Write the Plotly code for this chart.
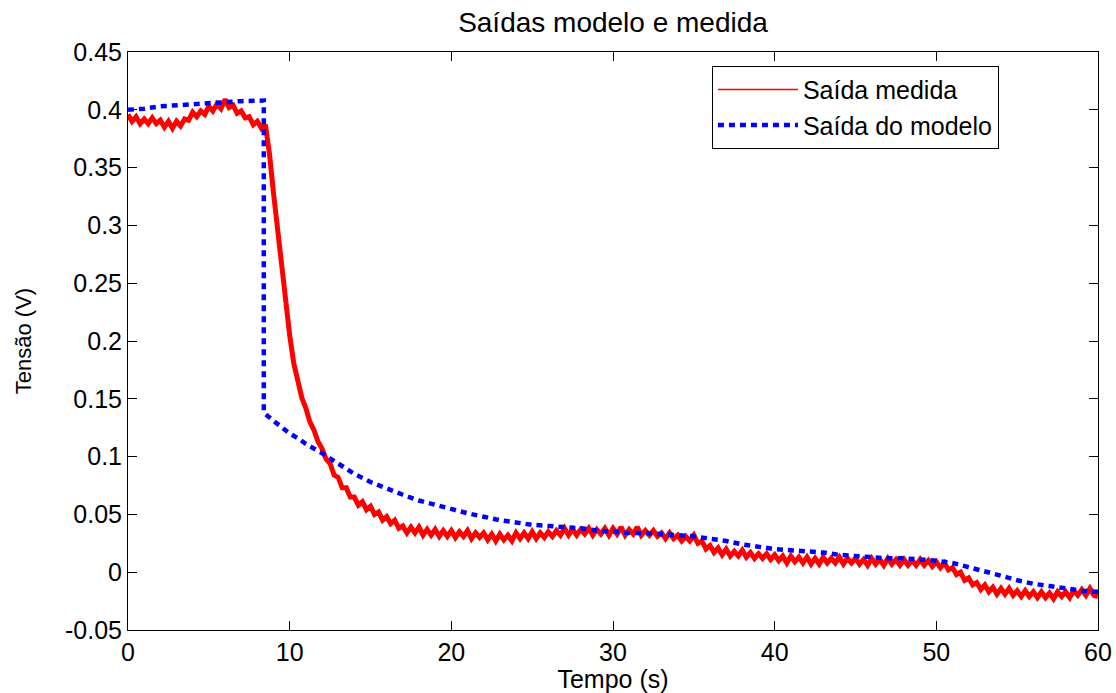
import plotly.graph_objects as go

# Measured output, sampled every 0.25 s from 0 to 60 s
t_step = 0.25
medida = [
    0.396, 0.390, 0.394, 0.388, 0.392, 0.388, 0.393, 0.388, 0.391, 0.385,
    0.390, 0.384, 0.390, 0.386, 0.392, 0.391, 0.398, 0.394, 0.399, 0.396,
    0.403, 0.399, 0.405, 0.401, 0.409, 0.402, 0.404, 0.397, 0.399, 0.393,
    0.394, 0.387, 0.390, 0.384, 0.387, 0.362, 0.328, 0.296, 0.262, 0.234,
    0.205, 0.181, 0.166, 0.151, 0.142, 0.130, 0.123, 0.113, 0.107, 0.098,
    0.094, 0.084, 0.082, 0.073, 0.073, 0.065, 0.065, 0.058, 0.061, 0.054,
    0.057, 0.050, 0.052, 0.045, 0.048, 0.042, 0.045, 0.038, 0.040, 0.034,
    0.039, 0.034, 0.039, 0.032, 0.037, 0.032, 0.037, 0.031, 0.036, 0.031,
    0.036, 0.030, 0.035, 0.031, 0.036, 0.029, 0.034, 0.030, 0.034, 0.028,
    0.033, 0.027, 0.033, 0.028, 0.032, 0.027, 0.034, 0.029, 0.034, 0.029,
    0.035, 0.029, 0.034, 0.030, 0.035, 0.031, 0.036, 0.032, 0.038, 0.032,
    0.037, 0.032, 0.037, 0.033, 0.038, 0.032, 0.037, 0.033, 0.038, 0.032,
    0.038, 0.033, 0.039, 0.032, 0.037, 0.033, 0.039, 0.032, 0.036, 0.032,
    0.036, 0.031, 0.034, 0.029, 0.034, 0.029, 0.032, 0.027, 0.031, 0.027,
    0.032, 0.025, 0.027, 0.020, 0.023, 0.017, 0.021, 0.015, 0.020, 0.014,
    0.018, 0.014, 0.019, 0.013, 0.017, 0.012, 0.016, 0.012, 0.016, 0.011,
    0.015, 0.010, 0.014, 0.008, 0.014, 0.009, 0.013, 0.008, 0.013, 0.007,
    0.012, 0.007, 0.013, 0.008, 0.012, 0.008, 0.013, 0.007, 0.012, 0.008,
    0.012, 0.007, 0.011, 0.006, 0.012, 0.007, 0.011, 0.006, 0.012, 0.007,
    0.011, 0.006, 0.011, 0.006, 0.010, 0.006, 0.011, 0.006, 0.010, 0.005,
    0.009, 0.004, 0.008, 0.002, 0.004, -0.002, 0.000, -0.007, -0.005, -0.011,
    -0.009, -0.015, -0.011, -0.017, -0.013, -0.019, -0.014, -0.019, -0.014, -0.020,
    -0.016, -0.021, -0.016, -0.021, -0.017, -0.022, -0.017, -0.022, -0.018, -0.023,
    -0.017, -0.021, -0.017, -0.022, -0.016, -0.020, -0.015, -0.020, -0.014, -0.020,
    -0.021,
]
tempo_medida = [round(i * t_step, 2) for i in range(len(medida))]

# Model output
tempo_modelo = [0, 1, 2, 3, 4, 5, 6, 7, 8.4, 8.4, 9, 10, 10.5, 11, 12, 13, 14, 15,
                16, 17, 18, 19, 20, 21, 22, 23, 24, 25, 26, 27, 28, 29, 30, 31, 32,
                33, 34, 35, 36, 37, 38, 39, 40, 41, 42, 43, 44, 45, 46, 47, 48, 49,
                50, 51, 52, 53, 54, 55, 56, 57, 58, 59, 60]
modelo = [0.400, 0.401, 0.403, 0.404, 0.405, 0.406, 0.407, 0.4075, 0.408, 0.138,
          0.131, 0.120, 0.116, 0.111, 0.103, 0.094, 0.085, 0.078, 0.072, 0.067,
          0.062, 0.058, 0.055, 0.051, 0.048, 0.045, 0.043, 0.041, 0.040, 0.039,
          0.038, 0.036, 0.035, 0.034, 0.034, 0.033, 0.032, 0.031, 0.029, 0.027,
          0.024, 0.022, 0.020, 0.019, 0.018, 0.017, 0.015, 0.014, 0.013, 0.012,
          0.012, 0.011, 0.010, 0.008, 0.004, 0.001, -0.003, -0.007, -0.010,
          -0.012, -0.014, -0.016, -0.017]

x_ticks = [0, 10, 20, 30, 40, 50, 60]
y_ticks = [-0.05, 0, 0.05, 0.1, 0.15, 0.2, 0.25, 0.3, 0.35, 0.4, 0.45]
y_tick_text = ["-0.05", "0", "0.05", "0.1", "0.15", "0.2", "0.25", "0.3", "0.35", "0.4", "0.45"]

FONT = "Liberation Sans, Arial, sans-serif"
RED = "#FF0000"
BLUE = "#0000FF"

fig = go.Figure()
# noisy measurement drawn as a thick band; its legend key is a thin line
fig.add_trace(go.Scatter(
    x=tempo_medida, y=medida, mode="lines", name="Saída medida",
    line=dict(color=RED, width=5), showlegend=False, legendgroup="medida",
))
fig.add_trace(go.Scatter(
    x=[None], y=[None], mode="lines", name="Saída medida",
    line=dict(color=RED, width=1.5), legendgroup="medida",
))
fig.add_trace(go.Scatter(
    x=tempo_modelo, y=modelo, mode="lines", name="Saída do modelo",
    line=dict(color=BLUE, width=4.5, dash="6px,5px"),
))

fig.update_layout(
    width=1116, height=693,
    margin=dict(l=128, r=18, t=52, b=63),
    paper_bgcolor="white", plot_bgcolor="white",
    font=dict(family=FONT, color="black"),
    title=dict(text="Saídas modelo e medida", x=0.5, xref="paper", xanchor="center",
               y=1 - 22 / 693, yanchor="middle", font=dict(size=28, color="black")),
    showlegend=True,
    legend=dict(x=0.602, y=0.976, xanchor="left", yanchor="top",
                bordercolor="black", borderwidth=1, bgcolor="white",
                font=dict(size=25), tracegroupgap=0, itemwidth=80),
)
fig.update_xaxes(
    range=[0, 60], tickvals=x_ticks, ticks="inside", ticklen=9, tickcolor="black",
    showline=True, linecolor="black", linewidth=1, mirror="ticks",
    showgrid=False, zeroline=False, tickfont=dict(size=25),
    automargin=False, ticklabeloverflow="allow",
    title=dict(text="Tempo (s)", font=dict(size=25), standoff=4),
)
fig.update_yaxes(
    range=[-0.05, 0.45], tickvals=y_ticks, ticktext=y_tick_text, ticks="inside",
    ticklen=9, tickcolor="black",
    showline=True, linecolor="black", linewidth=1, mirror="ticks",
    showgrid=False, zeroline=False, tickfont=dict(size=25),
    automargin=False, ticklabeloverflow="allow",
    title=dict(text="Tensão (V)", font=dict(size=22), standoff=27),
)

fig.write_html("out.html")
